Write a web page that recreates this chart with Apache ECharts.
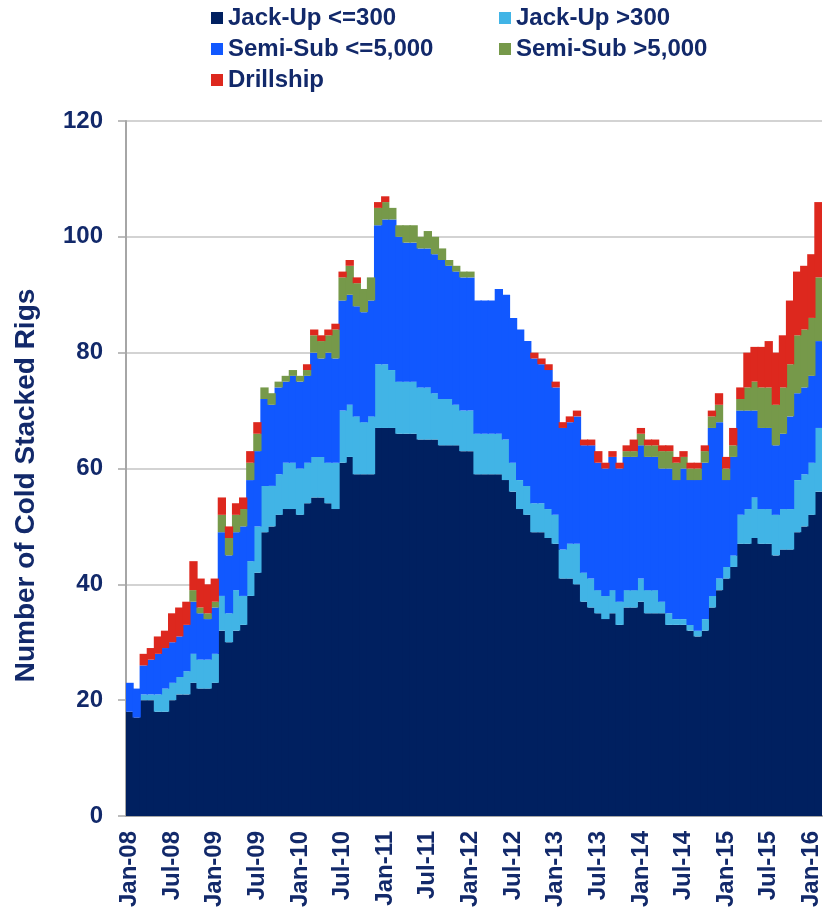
<!DOCTYPE html>
<html lang="en">
<head>
<meta charset="UTF-8">
<script src="https://cdn.jsdelivr.net/npm/echarts@6/dist/echarts.min.js"></script>
<title>Cold Stacked Rigs</title>
<style>
    html, body { margin: 0; padding: 0; background: #ffffff; }
    #chart { width: 828px; height: 920px; }
</style>
</head>
<body>
<div id="chart"></div>
<script>
// monthly categories Jan-08 .. Feb-16
const monthNames = ['Jan', 'Feb', 'Mar', 'Apr', 'May', 'Jun', 'Jul', 'Aug', 'Sep', 'Oct', 'Nov', 'Dec'];
const years = ['08', '09', '10', '11', '12', '13', '14', '15', '16'];
const months = [];
years.forEach(y => monthNames.forEach(m => months.push(m + '-' + y)));
months.length = 98;

const seriesNames = ['Jack-Up <=300', 'Jack-Up >300', 'Semi-Sub <=5,000', 'Semi-Sub >5,000', 'Drillship'];

const jackUpSmall = [
    18, 17, 20, 20, 18, 18, 20, 21, 21, 23, 22, 22, 23, 32, 30, 32, 33, 38, 42, 49,
    50, 52, 53, 53, 52, 54, 55, 55, 54, 53, 61, 62, 59, 59, 59, 67, 67, 67, 66, 66,
    66, 65, 65, 65, 64, 64, 64, 63, 63, 59, 59, 59, 59, 58, 56, 53, 52, 49, 49, 48,
    47, 41, 41, 40, 37, 36, 35, 34, 35, 33, 36, 36, 37, 35, 35, 35, 33, 33, 33, 32,
    31, 32, 36, 39, 41, 43, 47, 47, 48, 47, 47, 45, 46, 46, 49, 50, 52, 56
];
const jackUpLarge = [
    0, 0, 1, 1, 3, 4, 3, 3, 4, 5, 5, 5, 5, 6, 5, 7, 5, 6, 8, 8,
    7, 7, 8, 8, 8, 7, 7, 7, 7, 8, 9, 9, 10, 9, 10, 11, 11, 10, 9, 9,
    9, 9, 9, 8, 8, 8, 7, 7, 7, 7, 7, 7, 7, 7, 5, 5, 5, 5, 5, 5,
    5, 5, 6, 7, 5, 5, 4, 4, 4, 4, 3, 3, 4, 4, 4, 2, 2, 1, 1, 1,
    1, 2, 2, 2, 2, 2, 5, 6, 7, 6, 6, 7, 7, 7, 9, 9, 9, 11
];
const semiSmall = [
    5, 5, 5, 6, 7, 7, 7, 7, 8, 9, 8, 7, 8, 11, 10, 10, 12, 14, 13, 15,
    14, 15, 14, 15, 15, 15, 18, 17, 19, 18, 19, 19, 19, 19, 20, 24, 25, 26, 25, 24,
    24, 24, 24, 24, 24, 23, 23, 23, 23, 23, 23, 23, 25, 25, 25, 26, 25, 25, 24, 24,
    22, 21, 21, 22, 22, 23, 22, 22, 23, 23, 23, 23, 23, 23, 23, 23, 25, 24, 26, 25,
    26, 27, 29, 27, 15, 17, 18, 17, 15, 14, 14, 12, 13, 16, 15, 15, 15, 15
];
const semiLarge = [
    0, 0, 0, 0, 0, 0, 0, 0, 0, 2, 1, 1, 1, 3, 3, 3, 3, 3, 3, 2,
    2, 1, 1, 1, 1, 1, 3, 3, 3, 5, 4, 5, 4, 4, 4, 3, 3, 2, 2, 3,
    3, 2, 3, 3, 2, 1, 1, 1, 1, 0, 0, 0, 0, 0, 0, 0, 0, 0, 0, 0,
    0, 0, 0, 0, 0, 0, 0, 0, 0, 0, 1, 1, 2, 2, 2, 3, 3, 3, 2, 2,
    2, 2, 2, 3, 2, 2, 2, 4, 5, 7, 7, 7, 8, 9, 10, 10, 10, 11
];
const drillship = [
    0, 0, 2, 2, 3, 3, 5, 5, 4, 5, 5, 5, 4, 3, 2, 2, 2, 2, 2, 0,
    0, 0, 0, 0, 0, 1, 1, 1, 1, 1, 1, 1, 1, 0, 0, 1, 1, 0, 0, 0,
    0, 0, 0, 0, 0, 0, 0, 0, 0, 0, 0, 0, 0, 0, 0, 0, 0, 1, 1, 1,
    1, 1, 1, 1, 1, 1, 2, 1, 1, 1, 1, 2, 1, 1, 1, 1, 1, 1, 1, 1,
    1, 1, 1, 2, 2, 3, 2, 6, 6, 7, 8, 9, 9, 11, 11, 11, 11, 13
];

const colors = ['#002060', '#41B4E6', '#1158FF', '#76994A', '#DD281E'];
const navyText = '#12296A';
const font = "'Liberation Sans', Arial, sans-serif";

const chart = echarts.init(document.getElementById('chart'), null, { renderer: 'canvas' });

const values = [jackUpSmall, jackUpLarge, semiSmall, semiLarge, drillship];

const legendText = {
    fontFamily: font,
    fontSize: 24,
    fontWeight: 'bold',
    color: navyText,
    lineHeight: 24
};

chart.setOption({
    animation: false,
    color: colors,
    legend: [
        {
            data: [seriesNames[0], seriesNames[2], seriesNames[4]],
            orient: 'vertical',
            left: 211,
            top: 6,
            icon: 'rect',
            itemWidth: 12,
            itemHeight: 12,
            itemGap: 7,
            padding: 0,
            textStyle: legendText
        },
        {
            data: [seriesNames[1], seriesNames[3]],
            orient: 'vertical',
            left: 499,
            top: 6,
            icon: 'rect',
            itemWidth: 12,
            itemHeight: 12,
            itemGap: 7,
            padding: 0,
            textStyle: legendText
        }
    ],
    grid: {
        left: 126,
        right: 6,
        top: 121,
        bottom: 104
    },
    xAxis: {
        type: 'category',
        data: months,
        boundaryGap: true,
        axisLine: { lineStyle: { color: '#A6A6A6', width: 2 } },
        axisTick: { interval: 5, length: 7, lineStyle: { color: '#A6A6A6', width: 1.5 } },
        axisLabel: {
            interval: 5,
            rotate: 90,
            margin: 15,
            fontFamily: font,
            fontSize: 24,
            fontWeight: 'bold',
            color: navyText
        },
        splitLine: { show: false }
    },
    yAxis: {
        type: 'value',
        min: 0,
        max: 120,
        interval: 20,
        name: 'Number of Cold Stacked Rigs',
        nameLocation: 'middle',
        nameGap: 86,
        nameTextStyle: {
            fontFamily: font,
            fontSize: 28,
            fontWeight: 'bold',
            color: navyText,
            padding: [0, 34, 0, 0]
        },
        axisLine: { show: true, lineStyle: { color: '#A6A6A6', width: 2 } },
        axisTick: { show: true, length: 8, lineStyle: { color: '#A6A6A6', width: 1.5 } },
        axisLabel: {
            margin: 23,
            fontFamily: font,
            fontSize: 24,
            fontWeight: 'bold',
            color: navyText
        },
        splitLine: { lineStyle: { color: '#C4C4C4', width: 1.5 } }
    },
    series: seriesNames.map((name, i) => ({
        name: name,
        type: 'bar',
        stack: 'rigs',
        barWidth: 8.3,
        barGap: '0%',
        data: values[i],
        itemStyle: { color: colors[i] },
        emphasis: { disabled: true }
    }))
});
</script>
</body>
</html>
